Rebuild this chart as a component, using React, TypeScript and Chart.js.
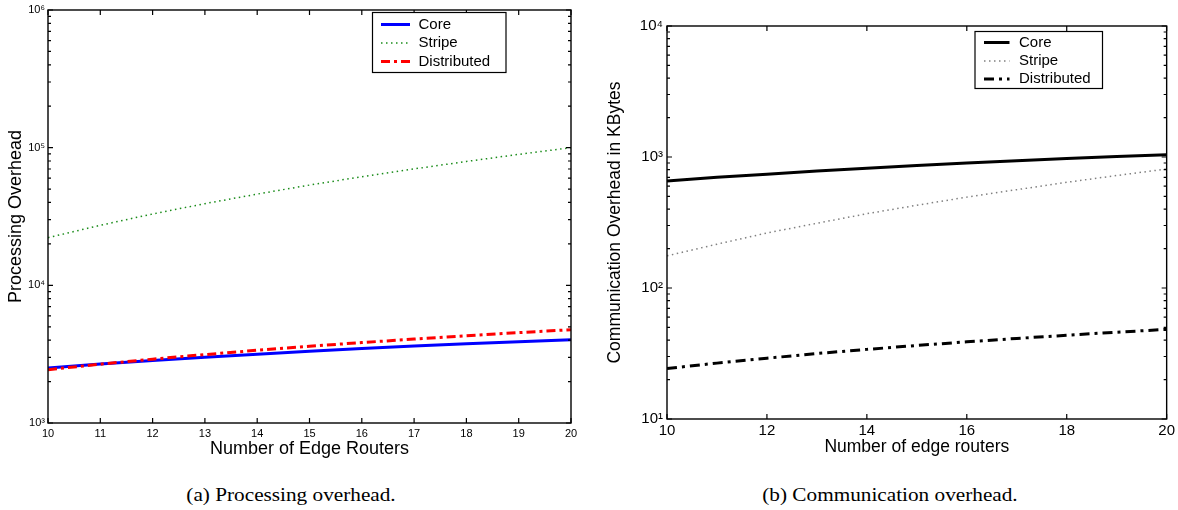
import React, { useEffect, useRef } from 'react';
import { Chart, registerables } from 'chart.js';

Chart.register(...registerables);

// ---------- data ----------
const seriesNames = ['Core', 'Stripe', 'Distributed'];

// (a) Processing overhead
const routersA = [10, 11, 12, 13, 14, 15, 16, 17, 18, 19, 20];
const coreA = [2510, 2680, 2840, 3000, 3160, 3320, 3470, 3620, 3770, 3900, 4030];
const stripeA = [22200, 27300, 33000, 39200, 46000, 53500, 61500, 70100, 79400, 89400, 100000];
const distA = [2440, 2675, 2910, 3140, 3375, 3610, 3840, 4070, 4300, 4535, 4760];
const xTicksA = [10, 11, 12, 13, 14, 15, 16, 17, 18, 19, 20];
const yTicksA = [1e3, 1e4, 1e5, 1e6];

// (b) Communication overhead
const routersB = [10, 11, 12, 13, 14, 15, 16, 17, 18, 19, 20];
const coreB = [656, 700, 740, 782, 820, 860, 898, 935, 972, 1008, 1042];
const stripeB = [176, 216, 263, 312, 369, 428, 494, 563, 641, 722, 810];
const distB = [24.3, 26.7, 29.1, 31.6, 34.0, 36.4, 38.8, 41.2, 43.6, 46.0, 48.3];
const xTicksB = [10, 12, 14, 16, 18, 20];
const yTicksB = [10, 100, 1000, 10000];

const FAMILY = '"Liberation Sans", Arial, Helvetica, sans-serif';
const SUP = ['⁰', '¹', '²', '³', '⁴', '⁵', '⁶', '⁷', '⁸', '⁹'];
const pow10Label = (v: number) => {
  const e = Math.round(Math.log10(v));
  return '10' + String(e).split('').map((d) => SUP[+d]).join('');
};

const framePlugin = {
  id: 'frame',
  afterDatasetsDraw(chart: any, _args: any, opts: any) {
    const { ctx, chartArea: a, scales } = chart;
    const x = scales.x;
    const y = scales.y;
    ctx.save();
    ctx.strokeStyle = '#000';
    ctx.lineWidth = 1.2;
    ctx.beginPath();
    for (const v of opts.xTicks) {
      const px = x.getPixelForValue(v);
      ctx.moveTo(px, a.bottom);
      ctx.lineTo(px, a.bottom - 5);
      ctx.moveTo(px, a.top);
      ctx.lineTo(px, a.top + 5);
    }
    const yMin = y.min;
    const yMax = y.max;
    for (let d = yMin; d < yMax * 1.0001; d *= 10) {
      const py = y.getPixelForValue(d);
      ctx.moveTo(a.left, py);
      ctx.lineTo(a.left + 5, py);
      ctx.moveTo(a.right, py);
      ctx.lineTo(a.right - 5, py);
      for (let m = 2; m <= 9 && d * m < yMax; m++) {
        const pm = y.getPixelForValue(d * m);
        ctx.moveTo(a.left, pm);
        ctx.lineTo(a.left + 3, pm);
        ctx.moveTo(a.right, pm);
        ctx.lineTo(a.right - 3, pm);
      }
    }
    ctx.stroke();
    ctx.lineWidth = 1.4;
    ctx.strokeRect(a.left, a.top, a.right - a.left, a.bottom - a.top);

    // legend box
    const L = opts.legend;
    ctx.fillStyle = '#fff';
    ctx.fillRect(L.left, L.top, L.right - L.left, L.bottom - L.top);
    ctx.lineWidth = 1.2;
    ctx.strokeStyle = '#000';
    ctx.strokeRect(L.left, L.top, L.right - L.left, L.bottom - L.top);
    ctx.font = `${L.fontSize}px ${FAMILY}`;
    ctx.textBaseline = 'middle';
    ctx.textAlign = 'left';
    chart.data.datasets.forEach((ds: any, i: number) => {
      const ry = L.rows[i];
      ctx.save();
      ctx.strokeStyle = ds.borderColor;
      ctx.lineWidth = ds.borderWidth;
      ctx.setLineDash(ds.borderDash || []);
      ctx.beginPath();
      ctx.moveTo(L.lineX0, ry);
      ctx.lineTo(L.lineX1, ry);
      ctx.stroke();
      ctx.restore();
      ctx.fillStyle = '#000';
      ctx.fillText(ds.label, L.textX, ry);
    });
    ctx.restore();
  },
};

type Cfg = {
  xs: number[];
  series: number[][];
  colors: string[];
  widths: number[];
  dashes: number[][];
  orders: number[];
  xTicks: number[];
  yTicks: number[];
  yMin: number;
  yMax: number;
  xTitle: string;
  yTitle: string;
  titleSize: number;
  tickSize: number;
  yAxisWidth: number;
  xAxisHeight: number;
  padRight: number;
  padTop: number;
  xTitlePadBottom: number;
  yTitlePadTop: number;
  xTickPad: number;
  yTickPad: number;
  legend: any;
};

function makeConfig(c: Cfg): any {
  return {
    type: 'line',
    data: {
      datasets: c.series.map((vals, i) => ({
        label: seriesNames[i],
        data: c.xs.map((xv, j) => ({ x: xv, y: vals[j] })),
        borderColor: c.colors[i],
        borderWidth: c.widths[i],
        borderDash: c.dashes[i],
        borderCapStyle: 'butt',
        pointRadius: 0,
        fill: false,
        tension: 0,
        order: c.orders[i],
      })),
    },
    options: {
      animation: false,
      responsive: false,
      maintainAspectRatio: false,
      events: [],
      layout: { padding: { left: 0, right: c.padRight, top: c.padTop, bottom: 0 } },
      plugins: {
        legend: { display: false },
        tooltip: { enabled: false },
        frame: { xTicks: c.xTicks, legend: c.legend },
      },
      scales: {
        x: {
          type: 'linear',
          min: c.xTicks[0],
          max: c.xTicks[c.xTicks.length - 1],
          afterBuildTicks: (s: any) => {
            s.ticks = c.xTicks.map((v) => ({ value: v }));
          },
          afterFit: (s: any) => {
            s.height = c.xAxisHeight;
          },
          grid: { display: false, drawTicks: false },
          border: { display: false },
          ticks: {
            padding: c.xTickPad,
            color: '#000',
            maxRotation: 0,
            autoSkip: false,
            font: { size: c.tickSize, family: FAMILY },
          },
          title: {
            display: true,
            text: c.xTitle,
            color: '#000',
            font: { size: c.titleSize, family: FAMILY },
            padding: { top: 0, bottom: c.xTitlePadBottom },
          },
        },
        y: {
          type: 'logarithmic',
          min: c.yMin,
          max: c.yMax,
          afterBuildTicks: (s: any) => {
            s.ticks = c.yTicks.map((v) => ({ value: v }));
          },
          afterFit: (s: any) => {
            s.width = c.yAxisWidth;
          },
          grid: { display: false, drawTicks: false },
          border: { display: false },
          ticks: {
            padding: c.yTickPad,
            color: '#000',
            autoSkip: false,
            font: { size: c.tickSize, family: FAMILY },
            callback: (v: any) => pow10Label(Number(v)),
          },
          title: {
            display: true,
            text: c.yTitle,
            color: '#000',
            font: { size: c.titleSize, family: FAMILY },
            padding: { top: c.yTitlePadTop, bottom: 0 },
          },
        },
      },
    },
    plugins: [framePlugin],
  };
}

const cfgA: Cfg = {
  xs: routersA,
  series: [coreA, stripeA, distA],
  colors: ['#0000ff', '#1a8c1a', '#ff0000'],
  widths: [3, 1.5, 3],
  dashes: [[], [1.5, 3.5], [9, 4, 3, 4]],
  orders: [2, 1, 0],
  xTicks: xTicksA,
  yTicks: yTicksA,
  yMin: 1e3,
  yMax: 1e6,
  xTitle: 'Number of Edge Routers',
  yTitle: 'Processing Overhead',
  titleSize: 18,
  tickSize: 11,
  yAxisWidth: 48,
  xAxisHeight: 47,
  padRight: 19,
  padTop: 10,
  xTitlePadBottom: 10.5,
  yTitlePadTop: 5,
  xTickPad: 4,
  yTickPad: 3,
  legend: {
    left: 372.5, right: 506, top: 12.5, bottom: 72.5,
    rows: [24.5, 43, 61.5], lineX0: 381, lineX1: 410, textX: 418.5, fontSize: 15,
  },
};

const cfgB: Cfg = {
  xs: routersB,
  series: [coreB, stripeB, distB],
  colors: ['#000000', '#808080', '#000000'],
  widths: [3, 1.5, 3],
  dashes: [[], [1.5, 3.5], [10, 5, 3, 5]],
  orders: [2, 1, 0],
  xTicks: xTicksB,
  yTicks: yTicksB,
  yMin: 10,
  yMax: 10000,
  xTitle: 'Number of edge routers',
  yTitle: 'Communication Overhead in KBytes',
  titleSize: 17.5,
  tickSize: 15,
  yAxisWidth: 77,
  xAxisHeight: 51,
  padRight: 11,
  padTop: 26,
  xTitlePadBottom: 12.5,
  yTitlePadTop: 14.5,
  xTickPad: 3,
  yTickPad: 4,
  legend: {
    left: 385, right: 512.5, top: 31.5, bottom: 88.5,
    rows: [42.5, 61, 79], lineX0: 394, lineX1: 419.5, textX: 429, fontSize: 15,
  },
};

function ChartCanvas({ cfg, left, width, height }: { cfg: Cfg; left: number; width: number; height: number }) {
  const ref = useRef<HTMLCanvasElement | null>(null);
  useEffect(() => {
    if (!ref.current) return;
    const chart = new Chart(ref.current, makeConfig(cfg));
    return () => chart.destroy();
  }, [cfg]);
  return (
    <canvas
      ref={ref}
      width={width}
      height={height}
      style={{ position: 'absolute', left, top: 0, width, height }}
    />
  );
}

const captionStyle: React.CSSProperties = {
  position: 'absolute',
  top: 484,
  width: 400,
  textAlign: 'center',
  fontFamily: '"Liberation Serif", "Times New Roman", serif',
  fontSize: 18,
  lineHeight: '22px',
  color: '#000',
  whiteSpace: 'nowrap',
  transform: 'scaleX(1.18)',
  transformOrigin: '50% 50%',
};

export default function App() {
  return (
    <div style={{ position: 'absolute', left: 0, top: 0, width: 1178, height: 510, background: '#fff', overflow: 'hidden' }}>
      <ChartCanvas cfg={cfgA} left={0} width={590} height={470} />
      <ChartCanvas cfg={cfgB} left={590} width={588} height={470} />
      <div style={{ ...captionStyle, left: 91 }}>(a) Processing overhead.</div>
      <div style={{ ...captionStyle, left: 690 }}>(b) Communication overhead.</div>
    </div>
  );
}
